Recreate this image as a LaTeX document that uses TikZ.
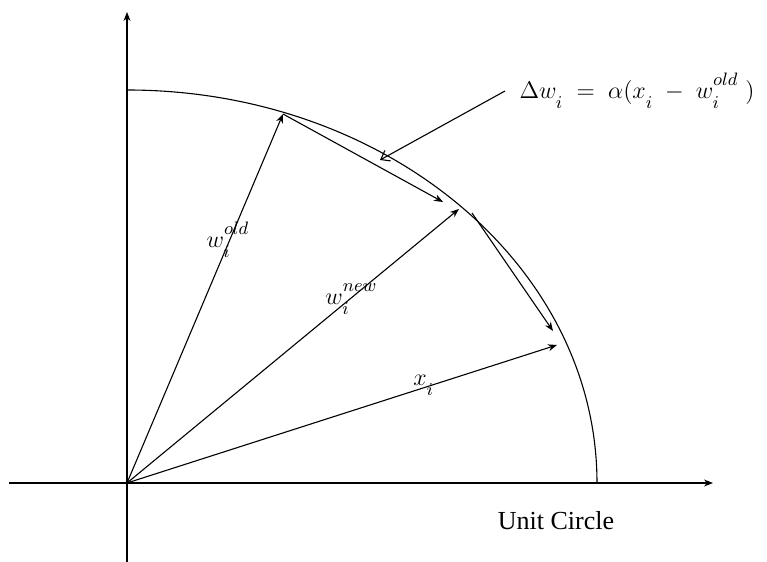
\documentclass[tikz,border=0pt]{standalone}
\usepackage{fontspec}
\setmainfont{Liberation Serif}
\usetikzlibrary{arrows.meta}
\newcommand{\veclab}[3]{#1_{\lower2pt\hbox{$\scriptstyle #2$}}^{\raise2pt\hbox{$\scriptstyle #3$}}}

\begin{document}
\begin{tikzpicture}[x=0.5pt,y=0.5pt,>={Stealth[length=4.5pt,width=3.5pt]},line width=0.55pt,
    lbl/.style={font=\fontsize{13}{15}\selectfont,inner sep=0pt},
    dwarrow/.style={-{Straight Barb[length=4pt,width=6pt]}}]
  \useasboundingbox (-127,-79) rectangle (640,483);
  % axes
  \coordinate (O) at (0,0);
  \coordinate (xl) at (-118,0);
  \coordinate (xr) at (586,0);
  \coordinate (yb) at (0,-79);
  \coordinate (yt) at (0,471);
  \draw[->] (xl) -- (xr);
  \draw[->] (yb) -- (yt);
  % unit circle
  \draw (0,393) arc[start angle=90,end angle=0,x radius=470,y radius=393];
  \node[font=\fontsize{13}{15}\selectfont] (uc) at (429,-38) {Unit Circle};
  % vectors
  \coordinate (wold) at (156,369);
  \coordinate (wnew) at (332,274);
  \coordinate (xi) at (430,138);
  \path[->] (O) edge node[lbl,pos=0.66,xshift=-1pt] {$\veclab{w}{i}{old}$} (wold)
            (O) edge node[lbl,pos=0.67,xshift=1pt] {$\veclab{w}{i}{new}$} (wnew)
            (O) edge node[lbl,pos=0.69,yshift=2pt] {$\veclab{x}{i}{}$} (xi);
  % update steps
  \coordinate (c1) at (316,281);
  \coordinate (c2s) at (345,270);
  \coordinate (c2e) at (426,152);
  \draw[->] (wold) -- (c1);
  \draw[->] (c2s) -- (c2e);
  % formula
  \node[lbl,anchor=west,inner xsep=7pt] (dw) at (378,392)
    {$\Delta \veclab{w}{i}{} \;=\; \alpha(\veclab{x}{i}{} \;-\; \veclab{w}{i}{old}\;)$};
  \coordinate (dwtip) at (253,323);
  \draw[dwarrow] (dw.west) -- (dwtip);
\end{tikzpicture}
\end{document}
